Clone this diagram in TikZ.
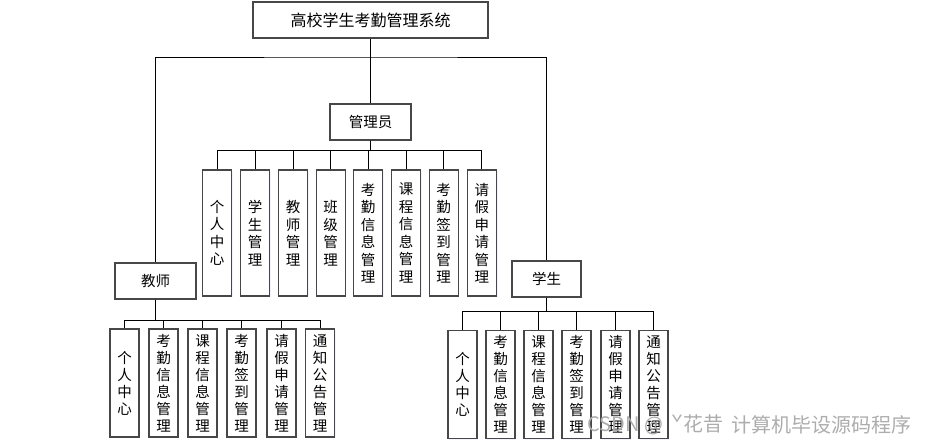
\documentclass[tikz,border=0pt]{standalone}
\usepackage{fontspec}
\setmainfont{Noto Sans CJK SC}
\usetikzlibrary{shadows}
\begin{document}
\begin{tikzpicture}[x=1pt,y=-1pt,
  box/.style={draw=black!72,line width=1.2pt,fill=white,inner sep=0pt,
    drop shadow={opacity=0.12,shadow xshift=1.2pt,shadow yshift=-1.2pt,fill=blue!40}},
  hbox/.style={box,minimum height=36pt,font=\fontsize{14.5}{17}\selectfont},
  vbox/.style={box,minimum width=29pt,align=center},
  conn/.style={draw=black,line width=0.9pt},
  wmark/.style={anchor=west,text=black!32,font=\fontsize{20}{22}\selectfont,inner sep=0pt}]
\useasboundingbox (0,0) rectangle (926,445);
% top level
\node[hbox,minimum width=235pt,font=\fontsize{16}{19}\selectfont] (top) at (370.5,20) {高校学生考勤管理系统};
\node[hbox,minimum width=81pt] (admin) at (370.5,122) {管理员};
\node[hbox,minimum width=81pt] (teacher) at (155.5,281) {教师};
\node[hbox,minimum width=69pt] (student) at (546.5,279) {学生};
% admin children
\begin{scope}[every node/.style={vbox,minimum height=126pt,font=\fontsize{14.5}{17.5}\selectfont}]
\node (a1) at (217.2,233) {个\\人\\中\\心};
\node (a2) at (255.2,233) {学\\生\\管\\理};
\node (a3) at (293.0,233) {教\\师\\管\\理};
\node (a4) at (330.6,233) {班\\级\\管\\理};
\node (a5) at (368.2,233) {考\\勤\\信\\息\\管\\理};
\node (a6) at (406.2,233) {课\\程\\信\\息\\管\\理};
\node (a7) at (443.7,233) {考\\勤\\签\\到\\管\\理};
\node (a8) at (481.8,233) {请\\假\\申\\请\\管\\理};
\end{scope}
% teacher children
\begin{scope}[every node/.style={vbox,minimum height=108pt,font=\fontsize{14.5}{17}\selectfont}]
\node (t1) at (124.5,383) {个\\人\\中\\心};
\node (t2) at (163.5,383) {考\\勤\\信\\息\\管\\理};
\node (t3) at (202.5,383) {课\\程\\信\\息\\管\\理};
\node (t4) at (241.5,383) {考\\勤\\签\\到\\管\\理};
\node (t5) at (281.5,383) {请\\假\\申\\请\\管\\理};
\node (t6) at (320.0,383) {通\\知\\公\\告\\管\\理};
\end{scope}
% student children
\begin{scope}[every node/.style={vbox,minimum height=108pt,font=\fontsize{14.5}{17}\selectfont}]
\node (s1) at (462.5,384.5) {个\\人\\中\\心};
\node (s2) at (500.5,384.5) {考\\勤\\信\\息\\管\\理};
\node (s3) at (538.5,384.5) {课\\程\\信\\息\\管\\理};
\node (s4) at (576.5,384.5) {考\\勤\\签\\到\\管\\理};
\node (s5) at (615.5,384.5) {请\\假\\申\\请\\管\\理};
\node (s6) at (653.5,384.5) {通\\知\\公\\告\\管\\理};
\end{scope}
% connectors
\coordinate (b0) at (370.5,57);
\draw[conn] (top.south) -- (admin.north);
\draw[conn] (teacher.north) |- (b0) -| (student.north);
\foreach \c in {a1,a2,a3,a4,a5,a6,a7,a8}
  \draw[conn] (admin.south) -- ++(0,10) -| (\c.north);
\foreach \c in {t1,t2,t3,t4,t5,t6}
  \draw[conn] (teacher.south) -- ++(0,21) -| (\c.north);
\foreach \c in {s1,s2,s3,s4,s5,s6}
  \draw[conn] (student.south) -- ++(0,14) -| (\c.north);
% watermark
\node[wmark] (wm1) at (587,425) {CSDN @\ \ ˇ花昔};
\node[wmark] (wm2) at (731,425) {计算机毕设源码程序};
\end{tikzpicture}
\end{document}
